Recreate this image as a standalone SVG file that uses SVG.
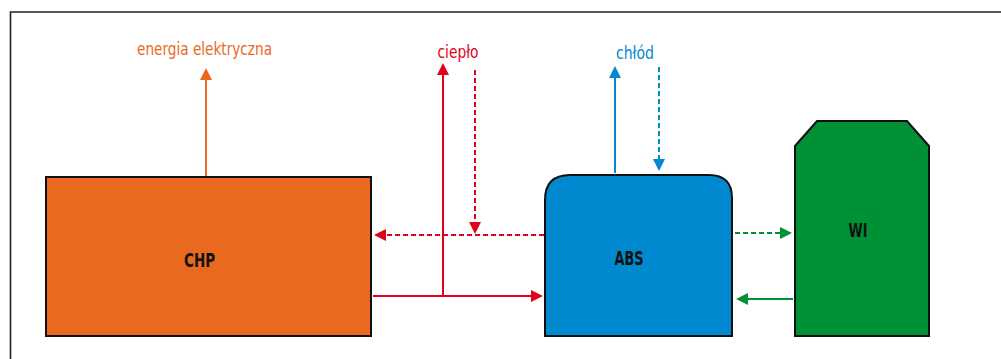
<svg xmlns="http://www.w3.org/2000/svg" width="1001" height="359" viewBox="0 0 1001 359">
  <style>
    .box { stroke: #111; stroke-width: 2; }
    .name { font-family: "DejaVu Sans Condensed", "Liberation Sans", sans-serif; font-weight: bold; font-size: 19px; fill: #111; text-anchor: middle; }
    .lbl { font-family: "DejaVu Sans Condensed", "Liberation Sans", sans-serif; font-size: 17px; text-anchor: middle; }
    .ln { fill: none; stroke-width: 2; }
    .dash { stroke-dasharray: 5 3; }
  </style>
  <defs>
    <marker id="hOrange" markerUnits="userSpaceOnUse" markerWidth="12" markerHeight="12" refX="6" refY="6" orient="auto">
      <path d="M0,0 L12,6 L0,12 z" fill="#E96A1E"/>
    </marker>
    <marker id="hRed" markerUnits="userSpaceOnUse" markerWidth="12" markerHeight="12" refX="6" refY="6" orient="auto">
      <path d="M0,0 L12,6 L0,12 z" fill="#E2001A"/>
    </marker>
    <marker id="hBlue" markerUnits="userSpaceOnUse" markerWidth="12" markerHeight="12" refX="6" refY="6" orient="auto">
      <path d="M0,0 L12,6 L0,12 z" fill="#0089CF"/>
    </marker>
    <marker id="hGreen" markerUnits="userSpaceOnUse" markerWidth="12" markerHeight="12" refX="6" refY="6" orient="auto">
      <path d="M0,0 L12,6 L0,12 z" fill="#009036"/>
    </marker>
  </defs>

  <rect width="1001" height="359" fill="#fff"/>
  <!-- frame -->
  <path d="M10.5,359 V12 H1001" fill="none" stroke="#222" stroke-width="1.6"/>

  <!-- connectors -->
  <g id="connectors">
    <!-- electricity out of CHP -->
    <line class="ln" x1="206" y1="176" x2="206" y2="74" stroke="#E96A1E" marker-end="url(#hOrange)"/>
    <!-- heat supply -->
    <polyline class="ln" points="373,296 443,296 443,69" stroke="#E2001A" marker-end="url(#hRed)"/>
    <line class="ln" x1="443" y1="296" x2="537" y2="296" stroke="#E2001A" marker-end="url(#hRed)"/>
    <!-- heat return -->
    <line class="ln dash" x1="475" y1="70" x2="475" y2="228" stroke="#E2001A" marker-end="url(#hRed)"/>
    <line class="ln dash" x1="544" y1="235" x2="380" y2="235" stroke="#E2001A" marker-end="url(#hRed)"/>
    <!-- cooling -->
    <line class="ln" x1="615" y1="173" x2="615" y2="72" stroke="#0089CF" marker-end="url(#hBlue)"/>
    <line class="ln dash" x1="659" y1="67" x2="659" y2="165" stroke="#0089CF" marker-end="url(#hBlue)"/>
    <!-- ABS <-> WI -->
    <line class="ln dash" x1="735" y1="233" x2="786" y2="233" stroke="#009036" marker-end="url(#hGreen)"/>
    <line class="ln" x1="793" y1="299" x2="742" y2="299" stroke="#009036" marker-end="url(#hGreen)"/>
  </g>

  <!-- flow labels -->
  <text class="lbl" x="204.5" y="55" fill="#E96A1E" textLength="135" lengthAdjust="spacingAndGlyphs">energia elektryczna</text>
  <text class="lbl" x="458" y="58" fill="#E2001A" textLength="41" lengthAdjust="spacingAndGlyphs">ciepło</text>
  <text class="lbl" x="635" y="59" fill="#0089CF" textLength="38" lengthAdjust="spacingAndGlyphs">chłód</text>

  <g id="chp">
    <rect class="box" x="46" y="177" width="325" height="159" fill="#E96A1E"/>
    <text class="name" x="199.5" y="267" textLength="31" lengthAdjust="spacingAndGlyphs">CHP</text>
  </g>

  <g id="abs">
    <path class="box" d="M545,336 V200 Q545,175 570,175 H709 Q732,175 732,198 V336 Z" fill="#0089CF"/>
    <text class="name" x="629" y="265" textLength="29" lengthAdjust="spacingAndGlyphs">ABS</text>
  </g>

  <g id="wi">
    <path class="box" d="M795,336 V146 L817,121 H907 L929,146 V336 Z" fill="#009036"/>
    <text class="name" x="858" y="237" textLength="19" lengthAdjust="spacingAndGlyphs">WI</text>
  </g>
</svg>
